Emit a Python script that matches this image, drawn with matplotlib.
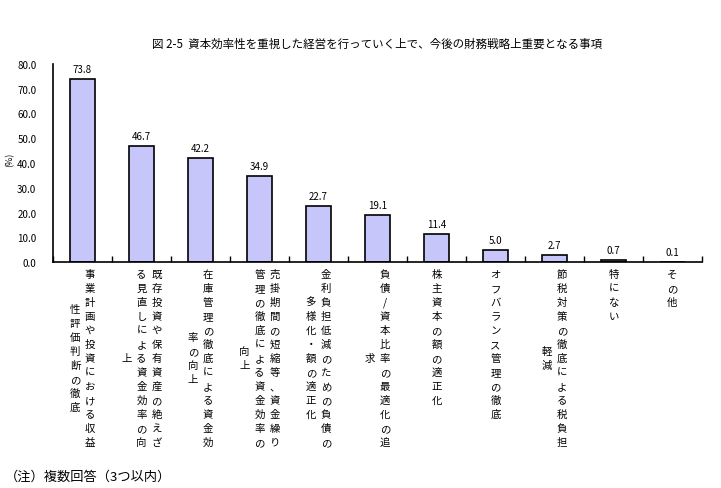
import matplotlib
matplotlib.use("Agg")
import matplotlib.pyplot as plt

plt.rcParams['font.family'] = ['Noto Sans CJK JP', 'DejaVu Sans']

title = "図 2-5  資本効率性を重視した経営を行っていく上で、今後の財務戦略上重要となる事項"
categories = [
    "事業計画や投資における収益性評価判断の徹底",
    "既存投資や保有資産の絶えざる見直しによる資金効率の向上",
    "在庫管理の徹底による資金効率の向上",
    "売掛期間の短縮等、資金繰り管理の徹底による資金効率の向上",
    "金利負担低減のための負債の多様化・額の適正化",
    "負債/資本比率の最適化の追求",
    "株主資本の額の適正化",
    "オフバランス管理の徹底",
    "節税対策の徹底による税負担軽減",
    "特にない",
    "その他",
]
values = [73.8, 46.7, 42.2, 34.9, 22.7, 19.1, 11.4, 5.0, 2.7, 0.7, 0.1]
yticks = [0, 10, 20, 30, 40, 50, 60, 70, 80]
ylabel = "(%)"
note = "（注）複数回答（3つ以内）"

fig = plt.figure(figsize=(7.21, 4.89), dpi=100)
ax = fig.add_axes([53/721, 1-263/489, (702-53)/721, (263-65)/489])

x = list(range(len(categories)))
ax.bar(x, values, width=0.41, color='#c6c6fb', edgecolor='black', linewidth=1.2, zorder=2)
ax.set_xlim(-0.5, len(categories)-0.5)
ax.set_ylim(0, 80)
ax.set_yticks(yticks)
ax.set_yticklabels([f"{v:.1f}" for v in yticks], fontsize=7)
ax.tick_params(axis='y', length=0, pad=12)
ax.set_xticks([])
ax.set_xticks([i + 0.5 for i in range(-1, len(categories))], minor=True)
ax.tick_params(axis='x', which='minor', direction='in', length=4, width=1)
for s in ['top', 'right']:
    ax.spines[s].set_visible(False)
for s in ['left', 'bottom']:
    ax.spines[s].set_linewidth(1.2)

for xi, v in zip(x, values):
    ax.annotate(f"{v:.1f}", xy=(xi, v), xytext=(0, 10), textcoords='offset pixels',
                ha='center', va='center', fontsize=7)

# vertical category labels (columns right-to-left)
per_col = 13
rowsp = 14.0
colsp = 15.0
top_off = 12.0
for xi, lab in zip(x, categories):
    cols = [lab[k:k+per_col] for k in range(0, len(lab), per_col)]
    nc = len(cols)
    n0 = len(cols[0])
    center = top_off + (n0 - 1) / 2 * rowsp
    for j, col in enumerate(cols):
        dx = ((nc - 1) / 2 - j) * colsp
        nj = len(col)
        for r, ch in enumerate(col):
            dy = -(center - ((nj - 1) / 2 - r) * rowsp)
            ax.annotate(ch, xy=(xi, 0), xytext=(dx, dy), textcoords='offset pixels',
                        ha='center', va='center', fontsize=7.5, annotation_clip=False)

fig.text(377/721, 1-44/489, title, ha='center', va='center', fontsize=8.3)
fig.text(10/721, 1-160/489, ylabel, ha='center', va='center', fontsize=6.5, rotation=90)
fig.text(5/721, 1-477/489, note, ha='left', va='center', fontsize=9.5)

fig.savefig("out.png", dpi=100)
